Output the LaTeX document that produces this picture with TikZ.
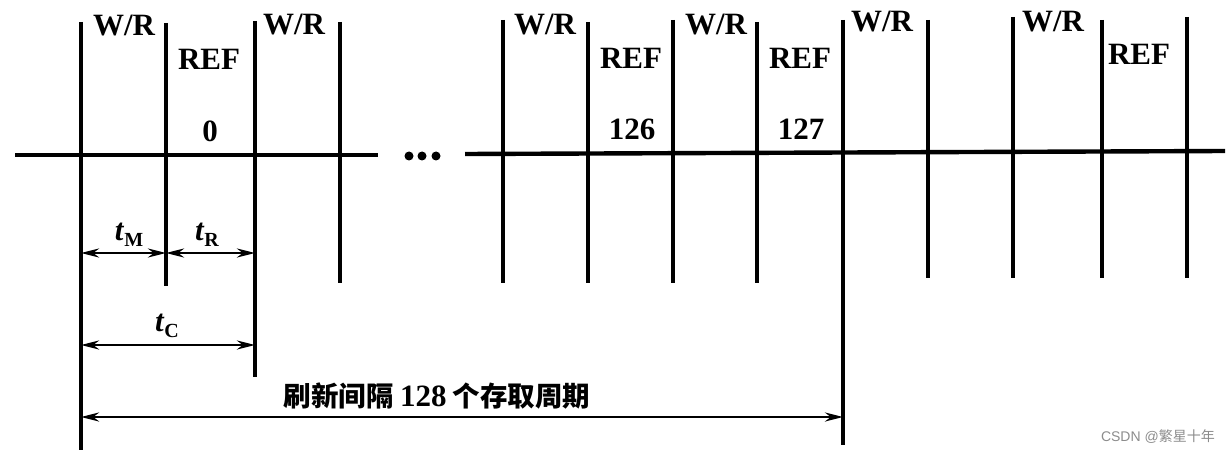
\documentclass[tikz,border=0pt]{standalone}
\usepackage{fontspec}
\setmainfont{Liberation Serif}
\newfontfamily\cjk{Noto Sans CJK SC}
\newfontfamily\wmfont{Liberation Sans}
\usetikzlibrary{arrows.meta}
\begin{document}
\begin{tikzpicture}[x=1pt,y=-1pt,
  tick/.style={line width=3.4pt},
  axis/.style={line width=4.4pt},
  lbl/.style={font=\fontsize{31}{33}\selectfont\bfseries, inner sep=0pt},
  tlbl/.style={font=\fontsize{31}{33}\selectfont\bfseries, inner sep=0pt},
  dim/.style={line width=2.8pt, {Stealth[length=18pt,width=9pt]}-{Stealth[length=18pt,width=9pt]}},
  cjklbl/.style={font=\fontsize{27.5}{30}\selectfont\cjk\bfseries, inner sep=0pt},
  dot/.style={circle, fill=black, inner sep=0pt, minimum size=9pt}]
\useasboundingbox (0,0) rectangle (1230,457);
% axis
\coordinate (h1a) at (15,155);
\coordinate (h1b) at (378,155);
\coordinate (h2a) at (465,154);
\coordinate (h2b) at (1225,151);
\draw[axis] (h1a) -- (h1b);
\draw[axis] (h2a) -- (h2b);
\node[dot] (d1) at (409,156) {};
\node[dot] (d2) at (422,156) {};
\node[dot] (d3) at (436,156) {};
% vertical ticks
\foreach \n/\x/\t/\b in {v1/81/22/450, v2/166/23/286, v3/255/21/377, v4/340/22/283,
  v5/503/20/283, v6/588/22/283, v7/673/20/283, v8/757/22/283, v9/843/20/445,
  v10/928/20/278, v11/1013/17/278, v12/1102/20/278, v13/1187/17/278}{
  \coordinate (\n t) at (\x,\t);
  \coordinate (\n b) at (\x,\b);
  \draw[tick] (\n t) -- (\n b);
}
% labels
\node[lbl] (wr1) at (124,26) {W/R};
\node[lbl] (ref0) at (209,59) {REF};
\node[lbl] (n0) at (210,131) {0};
\node[lbl] (wr2) at (294,25) {W/R};
\node[lbl] (wr3) at (545,25) {W/R};
\node[lbl] (ref126) at (631,58) {REF};
\node[lbl] (n126) at (632,129) {126};
\node[lbl] (wr4) at (716,25) {W/R};
\node[lbl] (ref127) at (800,58) {REF};
\node[lbl] (n127) at (801,129) {127};
\node[lbl] (wr5) at (882,22) {W/R};
\node[lbl] (wr6) at (1053,22) {W/R};
\node[lbl] (ref5) at (1139,54) {REF};
% dimension arrows
\coordinate (mA) at (81,253);
\coordinate (mB) at (166,253);
\coordinate (rB) at (255,253);
\draw[dim] (mA) -- (mB);
\draw[dim] (mB) -- (rB);
\node[tlbl] (tM) at (129,235) {\textit{t}\raisebox{-6pt}{\fontsize{20}{22}\selectfont M}};
\node[tlbl] (tR) at (207,235) {\textit{t}\raisebox{-6pt}{\fontsize{20}{22}\selectfont R}};
\coordinate (cA) at (81,345);
\coordinate (cB) at (255,345);
\draw[dim] (cA) -- (cB);
\node[tlbl] (tC) at (167,326) {\textit{t}\raisebox{-6pt}{\fontsize{20}{22}\selectfont C}};
\coordinate (bA) at (81,417);
\coordinate (bB) at (843,417);
\draw[dim] (bA) -- (bB);
\node[cjklbl] (cap) at (437,396) {刷新间隔 {\fontsize{31}{33}\selectfont\rmfamily\bfseries 128} 个存取周期};
% watermark
\node[inner sep=0pt, text=black!45, font=\fontsize{14}{16}\selectfont\wmfont, anchor=east] (wm) at (1215,437) {CSDN @{\cjk 繁星十年}};
\end{tikzpicture}
\end{document}
